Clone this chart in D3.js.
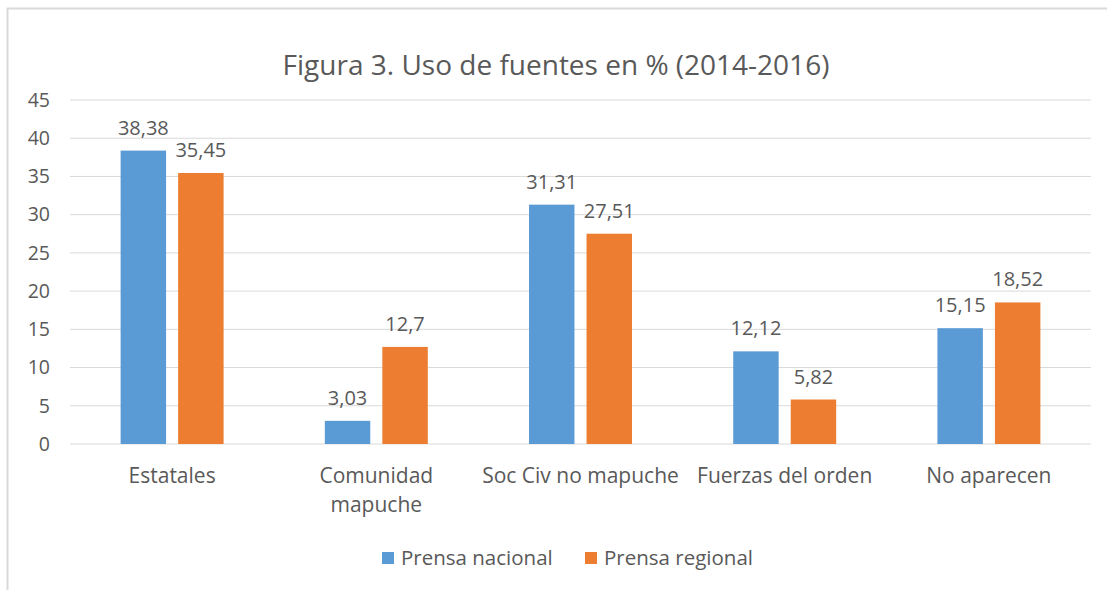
<!DOCTYPE html>
<html>
<head>
<meta charset="utf-8">
<script src="https://cdn.jsdelivr.net/npm/d3@7"></script>
<style>
  body { margin: 0; background: #fff; }
  text { font-family: "Open Sans", "Noto Sans", sans-serif; fill: #595959; }
</style>
</head>
<body>
<div id="chart"></div>
<script>
// data
const categories = ["Estatales", "Comunidad mapuche", "Soc Civ no mapuche", "Fuerzas del orden", "No aparecen"];
const seriesNames = ["Prensa nacional", "Prensa regional"];
const nacional = [38.38, 3.03, 31.31, 12.12, 15.15];
const regional = [35.45, 12.7, 27.51, 5.82, 18.52];
const yTicks = [0, 5, 10, 15, 20, 25, 30, 35, 40, 45];
const colors = ["#5b9bd5", "#ed7d31"];

const width = 1107, height = 590;
const margin = { top: 100, right: 16, bottom: 146, left: 70 };

const svg = d3.select("#chart").append("svg")
    .attr("width", width).attr("height", height);

// outer frame (chart area border)
svg.append("path")
    .attr("d", "M7.5,590 V8.5 H1107")
    .attr("fill", "none").attr("stroke", "#d9d9d9").attr("stroke-width", 2);

let x = d3.scaleBand().domain(categories).range([margin.left, width - margin.right]);
let y = d3.scaleLinear().domain([0, 45]).range([height - margin.bottom, margin.top]);
let inner = d3.scaleBand().domain(seriesNames).range([0, x.bandwidth()])
    .paddingInner(0.21).paddingOuter(0.88);

// gridlines
svg.append("g").selectAll("line").data(yTicks).enter().append("line")
    .attr("x1", margin.left).attr("x2", width - margin.right)
    .attr("y1", (d) => y(d)).attr("y2", (d) => y(d))
    .attr("stroke", "#d9d9d9").attr("stroke-width", 1);

// y labels
svg.append("g").selectAll("text").data(yTicks).enter().append("text")
    .attr("x", 50).attr("y", (d) => y(d))
    .attr("dy", "0.35em").attr("text-anchor", "end")
    .style("font-size", "19.5px")
    .text((d) => d);

let table = categories.map((c, i) => ({ cat: c, vals: [nacional[i], regional[i]] }));

let groups = svg.append("g").selectAll("g").data(table).enter().append("g")
    .attr("transform", (d) => "translate(" + x(d.cat) + ",0)");

let cells = groups.selectAll("g").data((d) => d.vals.map((v, k) => ({ k: k, v: v })))
    .enter().append("g");

cells.append("rect")
    .attr("x", (d) => inner(seriesNames[d.k]))
    .attr("width", inner.bandwidth())
    .attr("y", (d) => y(d.v))
    .attr("height", (d) => y(0) - y(d.v))
    .attr("fill", (d) => colors[d.k]);

cells.append("text")
    .attr("x", (d) => inner(seriesNames[d.k]) + inner.bandwidth() / 2)
    .attr("y", (d) => y(d.v) - 16)
    .attr("text-anchor", "middle")
    .style("font-size", "20px")
    .text((d) => String(d.v).replace(".", ","));

// category labels, wrapped like the original
const catLines = { "Comunidad mapuche": ["Comunidad", "mapuche"] };
let catText = svg.append("g").selectAll("text").data(categories).enter().append("text")
    .attr("x", (d) => x(d) + x.bandwidth() / 2)
    .attr("y", 483)
    .attr("text-anchor", "middle")
    .style("font-size", "21px");
catText.each(function(d) {
    let lines = catLines[d] || [d];
    d3.select(this).selectAll("tspan").data(lines).enter().append("tspan")
        .attr("x", x(d) + x.bandwidth() / 2)
        .attr("dy", (l, i) => i == 0 ? 0 : 29)
        .text((l) => l);
});

// title
svg.append("text")
    .attr("x", 556).attr("y", 75)
    .attr("text-anchor", "middle")
    .style("font-size", "28px")
    .text("Figura 3. Uso de fuentes en % (2014-2016)");

// legend
const legendX = [382, 585];
let legend = svg.append("g").selectAll("g").data(seriesNames).enter().append("g")
    .attr("transform", (d, i) => "translate(" + legendX[i] + ",552)");
legend.append("rect").attr("width", 12).attr("height", 12)
    .attr("fill", (d, i) => colors[i]);
legend.append("text").attr("x", 19).attr("y", 6).attr("dy", "0.35em")
    .style("font-size", "20.5px")
    .text((d) => d);
</script>
</body>
</html>
